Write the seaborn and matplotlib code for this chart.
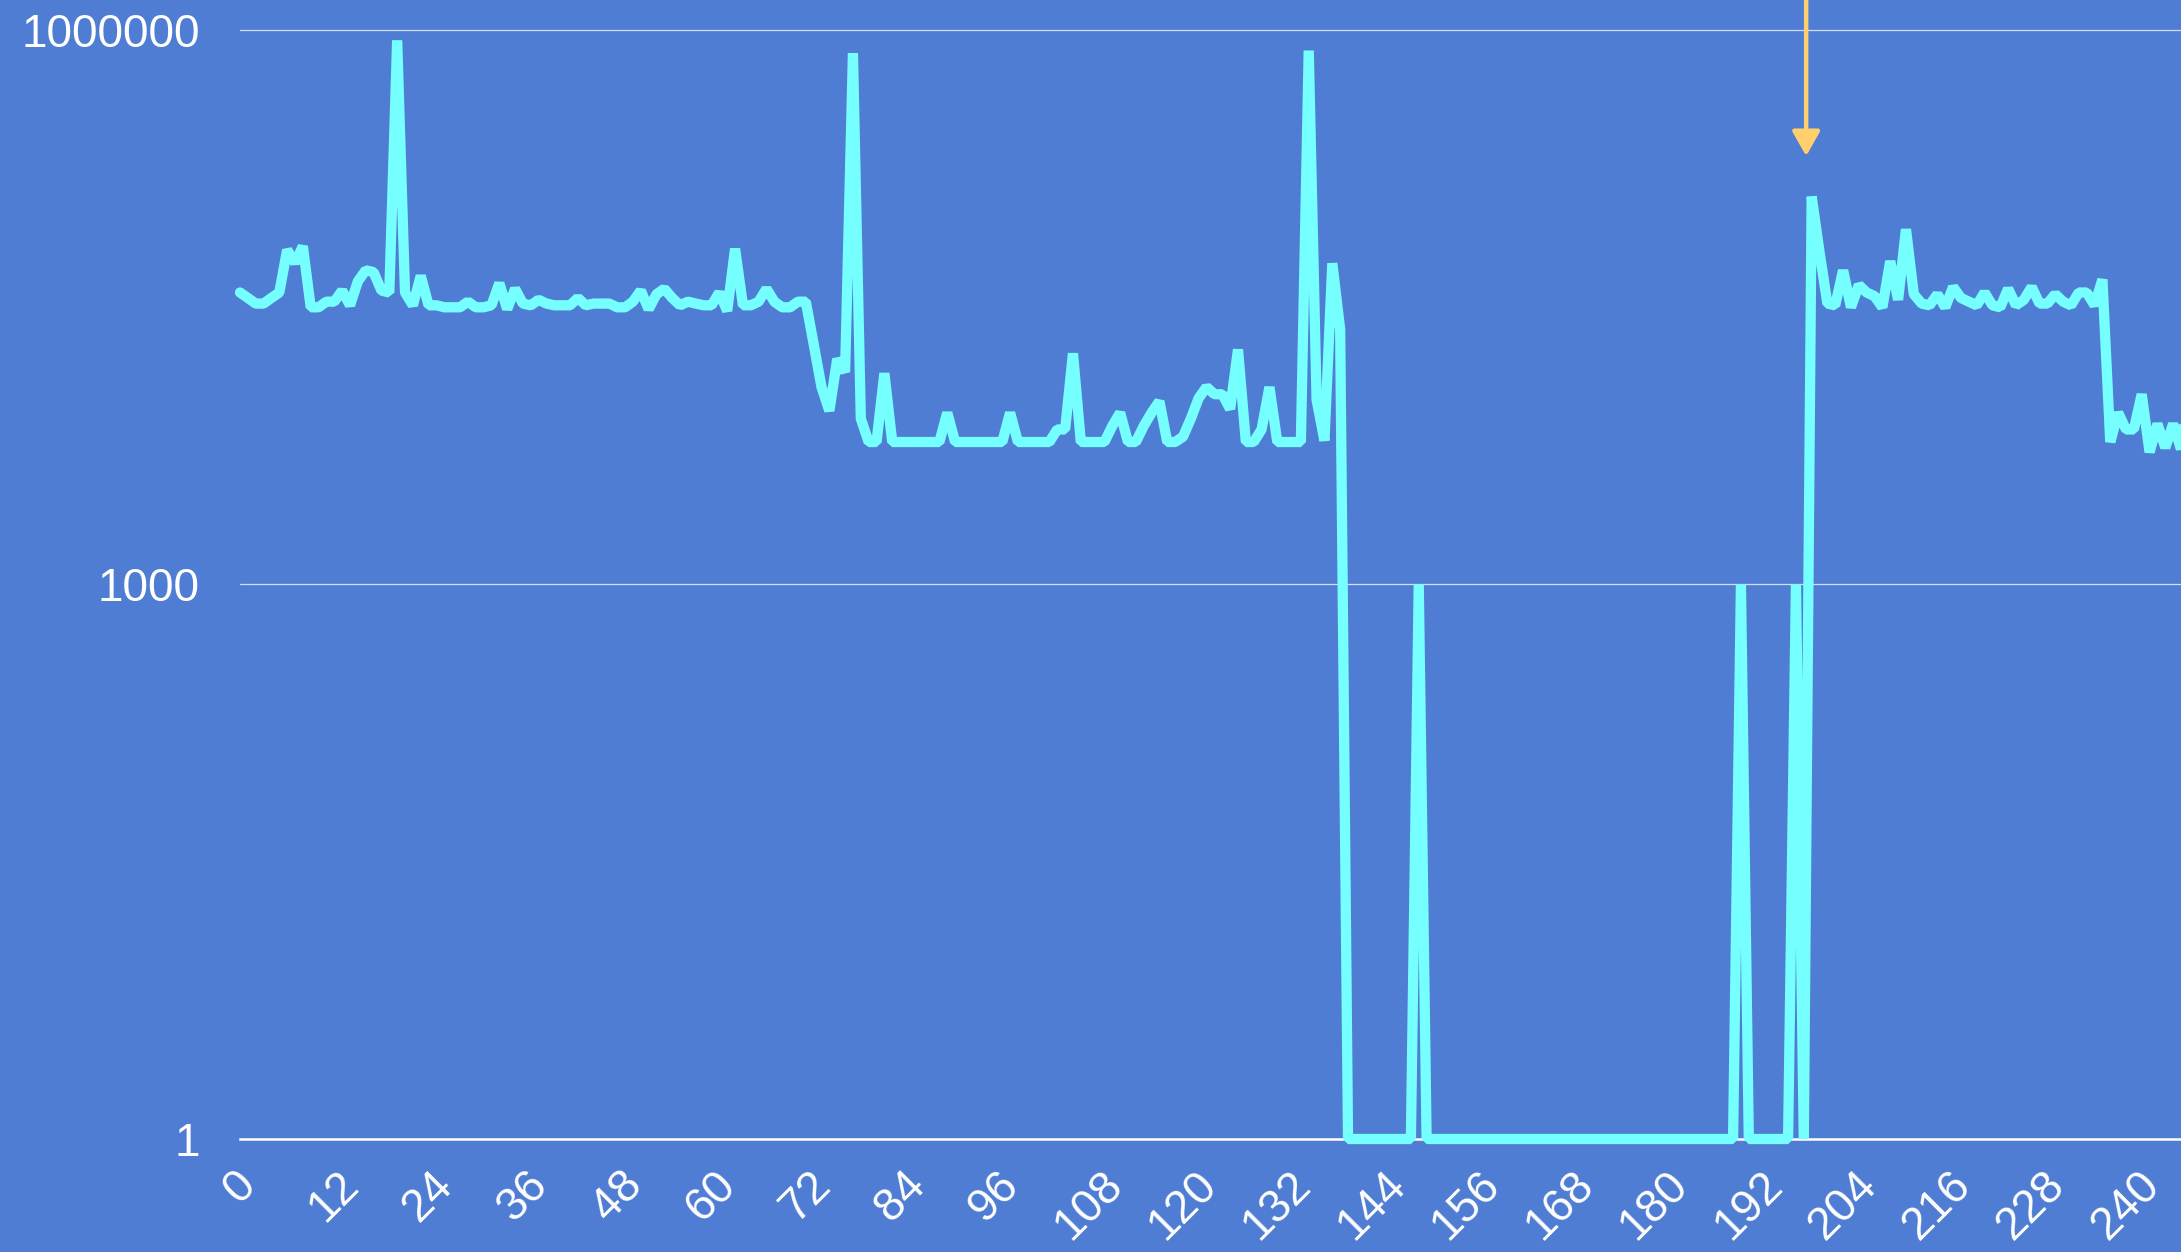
import numpy as np
import pandas as pd
import matplotlib
matplotlib.use("Agg")
import matplotlib.pyplot as plt
import seaborn as sns
from matplotlib.ticker import FixedLocator, FixedFormatter, NullLocator

# --- colours ---
BG = "#4f7dd3"
LINE = "#76ffff"
ARROW = "#ffcf6e"

# --- data (one value per step, log scale) ---
values = [
    38000, 35500, 33100, 33100, 35500, 38000, 64600, 55000, 67600, 31600,
    31600, 33900, 33900, 38900, 32400, 43700, 50100, 49000, 38900, 38000,
    879000, 38000, 32400, 46800, 32400, 32400, 31600, 31600, 31600, 33900,
    31600, 31600, 32400, 42700, 30900, 39800, 33100, 32400, 34700, 33100,
    32400, 32400, 32400, 35500, 32400, 33100, 33100, 33100, 31600, 31600,
    33900, 38900, 30900, 37200, 39800, 35500, 32400, 33900, 33100, 32400,
    32400, 38000, 30200, 65600, 32400, 32400, 33900, 39800, 33900, 31600,
    31600, 33900, 33900, 20000, 11700, 8700, 16600, 14100, 750000, 7900,
    5900, 5900, 13900, 5900, 5900, 5900, 5900, 5900, 5900, 5900,
    8500, 5900, 5900, 5900, 5900, 5900, 5900, 5900, 8500, 5900,
    5900, 5900, 5900, 5900, 6900, 6900, 17800, 5900, 5900, 5900,
    5900, 7200, 8500, 5900, 5900, 7200, 8500, 9800, 5900, 5900,
    6300, 7900, 10200, 11700, 10700, 10700, 8900, 18700, 5900, 5900,
    6900, 11700, 5900, 5900, 5900, 5900, 774000, 10000, 6000, 54700,
    24000, 1, 1, 1, 1, 1, 1, 1, 1, 1,
    1000, 1, 1, 1, 1, 1, 1, 1, 1, 1,
    1, 1, 1, 1, 1, 1, 1, 1, 1, 1,
    1, 1, 1, 1, 1, 1, 1, 1, 1, 1,
    1, 1, 1, 1, 1, 1, 1, 1, 1, 1,
    1, 1000, 1, 1, 1, 1, 1, 1, 1000, 1,
    125600, 63000, 33100, 32400, 50100, 31600, 41700, 38000, 36300, 31600,
    56200, 34700, 83600, 37200, 33100, 32400, 37200, 31600, 40700, 35500,
    33900, 32400, 38000, 32400, 31600, 39800, 32400, 34700, 40700, 33100,
    33100, 37200, 33900, 32400, 38000, 38000, 32400, 44700, 5900, 8500,
    6900, 6900, 10700, 5200, 7400, 5500, 7400, 5400, 40000,
]
steps = list(range(len(values)))

x_ticks = list(range(0, 241, 12))
x_tick_labels = [str(t) for t in x_ticks]
y_ticks = [1, 1000, 1000000]
y_tick_labels = ["1", "1000", "1000000"]

# annotation arrow (points at the recovery peak)
arrow_x = 199.3
arrow_tip = 208000

# --- style ---
sns.set_style("white", rc={"axes.facecolor": BG, "figure.facecolor": BG})
plt.rcParams["font.family"] = ["Liberation Sans", "DejaVu Sans"]

fig = plt.figure(figsize=(21.81, 12.52), dpi=100)
ax = fig.add_axes([0.11004, 0.09026, 0.88996, 0.90974])
ax.set_facecolor(BG)

df = pd.DataFrame({"step": steps, "value": values})
sns.lineplot(data=df, x="step", y="value", ax=ax, color=LINE, linewidth=7.4,
             clip_on=False, solid_joinstyle="bevel", zorder=3)

ax.set_yscale("log")
ax.set_xlim(0, 247)
ax.set_ylim(1, 1.453e6)

ax.yaxis.set_major_locator(FixedLocator(y_ticks))
ax.yaxis.set_major_formatter(FixedFormatter(y_tick_labels))
ax.yaxis.set_minor_locator(NullLocator())
ax.set_xticks(x_ticks)
ax.set_xticklabels(x_tick_labels, rotation=45, ha="center")

ax.tick_params(axis="both", length=0, labelsize=33, labelcolor="white")
ax.tick_params(axis="y", pad=28.8)
ax.tick_params(axis="x", pad=17)

ax.grid(axis="y", color="white", alpha=0.75, linewidth=0.9)
ax.grid(axis="x", visible=False)
for side in ["top", "right", "left"]:
    ax.spines[side].set_visible(False)
ax.spines["bottom"].set_color("white")
ax.spines["bottom"].set_linewidth(1.8)
ax.set_xlabel("")
ax.set_ylabel("")

ax.annotate("", xy=(arrow_x, arrow_tip), xytext=(arrow_x, 3e6),
            arrowprops=dict(arrowstyle="-|>,head_length=15,head_width=8.5",
                            mutation_scale=1, color=ARROW, lw=3.2,
                            shrinkA=0, shrinkB=0),
            annotation_clip=False, zorder=4)

fig.savefig("out.png", dpi=100, facecolor=BG)
